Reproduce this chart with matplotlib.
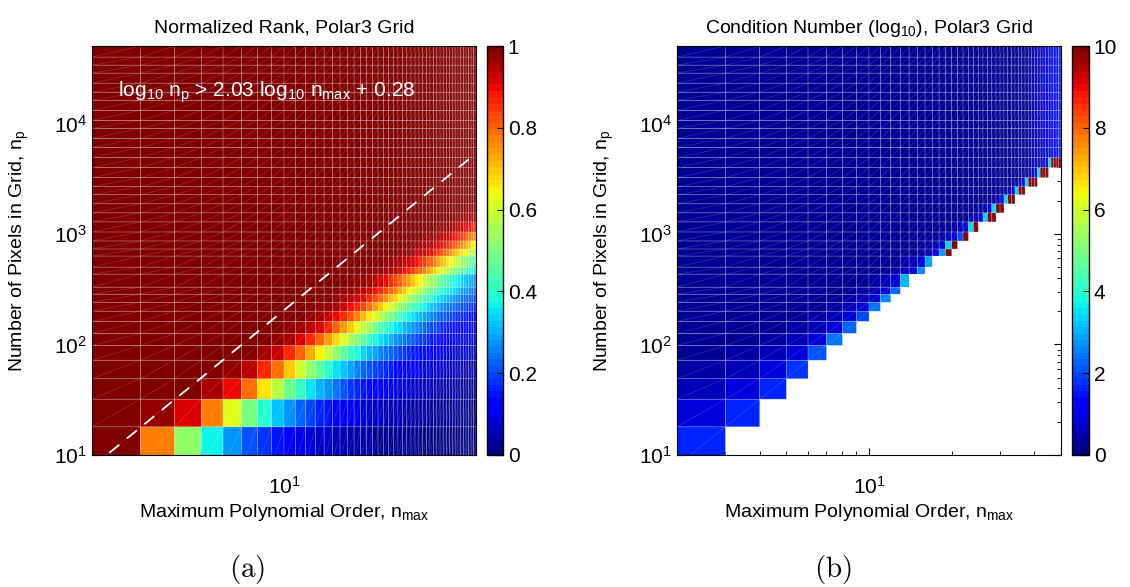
import numpy as np
import matplotlib.pyplot as plt
from matplotlib.collections import LineCollection
from matplotlib.ticker import LogLocator, NullFormatter

plt.rcParams['font.family'] = ['Liberation Sans', 'DejaVu Sans']
plt.rcParams['mathtext.default'] = 'regular'
plt.rcParams['font.size'] = 14

# column edges: maximum polynomial order
n_max = list(range(2, 51))
# row edges: number of pixels in the grid
n_pix = [8, 18, 32, 49, 72, 98, 126, 162, 200, 241, 285, 330, 433, 501, 631, 731,
         864, 1042, 1285, 1552, 1874, 2263, 2675, 3230, 3981, 4909, 6053, 7311,
         9010, 10650, 13120, 16180, 19140, 23110, 28490, 33650, 39810, 50100]

# effective rank reached in each row and sharpness of its knee (panel a colours)
rank_cap = [7.8, 18, 32, 49, 72, 98, 126, 162, 205, 250, 300, 350, 480, 573, 720,
            870, 1050, 1372, 1845, 2200, 2700, 3300, 4000, 5000, 6000, 7300, 9000,
            11000, 13500, 16000, 19000, 23000, 28000, 33000, 39000, 46000, 55000]
knee = [8] + [4] * 36

# panel b: last n_max that is still full rank in each row (edge of white area)
last_full = [2, 3, 4, 5, 6, 7, 8, 9, 10, 11, 12, 13, 15, 16, 19, 20, 22, 24, 28,
             30, 33, 36, 40, 44] + [49] * 13
# number of saturated (dark red) cells at the edge of each row
n_red = [0] * 14 + [1, 1, 1, 1, 2, 2, 2, 2, 3, 3, 4] + [0] * 12
# log10 condition number of the light blue / cyan cell at the edge
edge_cond = [1.6, 1.6, 1.7, 1.8, 2.1, 2.4, 2.2, 1.9, 2.4, 2.6, 2.2, 3.0, 2.6, 2.9,
             2.8, 3.4, 2.0, 3.4, 3.4, 3.4, 3.4, 3.4, 3.4, 3.4, 3.4] + [None] * 12
# cells just left of the edge cell
near_cond = [0.8, 0.55, 0.4]
# background log10 condition number per column (brighter at the top right)
col_base = [0.25] * 36 + [0.35, 0.4, 0.45, 0.5, 0.6, 0.7, 0.8, 0.9, 1.0, 1.2, 1.4, 1.7]

# fitted full-rank limit: log10 np > a log10 nmax + b
fit_a = 2.03
fit_b = 0.28

x = np.array(n_max, float)
y = np.array(n_pix, float)
terms = (x[:-1] + 1) * (x[:-1] + 2) / 2
p = np.array(knee, float)[:, None]
rank = (1 + (terms[None, :] / np.array(rank_cap)[:, None]) ** p) ** (-1 / p)

cond = np.full((len(y) - 1, len(x) - 1), np.nan)
for i in range(len(y) - 1):
    jl = n_max.index(last_full[i])
    row = np.array(col_base[:jl + 1])
    r = n_red[i]
    if r:
        row[jl - r + 1:] = 10
    if edge_cond[i] is not None:
        k = jl - r
        row[k] = edge_cond[i]
        for d, v in enumerate(near_cond):
            if k - d - 1 >= 0:
                row[k - d - 1] = max(row[k - d - 1], v)
    cond[i, :jl + 1] = row
cond = np.ma.masked_invalid(cond)

jet = plt.get_cmap('jet', 64)

W, H = 1130, 587
def box(x0, y0, x1, y1):
    return [x0 / W, 1 - y1 / H, (x1 - x0) / W, (y1 - y0) / H]

fig = plt.figure(figsize=(W / 100, H / 100), dpi=100)
ax1 = fig.add_axes(box(92, 46, 476, 455))
cax1 = fig.add_axes(box(487, 46, 503, 455))
ax2 = fig.add_axes(box(677, 46, 1061, 455))
cax2 = fig.add_axes(box(1072, 46, 1089, 455))

def panel(ax, cax, data, vmax, cticks, clabels, title):
    m = ax.pcolor(x, y, data, cmap=jet, vmin=0, vmax=vmax,
                  edgecolors=(1, 1, 1, 0.28), linewidth=0.5)
    # diagonal seams of the rendered quads
    segs = []
    for i in range(len(y) - 1):
        for j in range(len(x) - 1):
            if not np.ma.is_masked(data[i, j]):
                segs.append([(x[j], y[i]), (x[j + 1], y[i + 1])])
    ax.add_collection(LineCollection(segs, colors=(1, 1, 1, 0.18), linewidths=0.5))
    ax.set_xscale('log')
    ax.set_yscale('log')
    ax.set_xlim(2, 50)
    ax.set_ylim(10, 50100)
    ax.set_axisbelow(True)
    ax.xaxis.set_minor_locator(LogLocator(subs=np.arange(2, 10)))
    ax.yaxis.set_minor_locator(LogLocator(subs=np.arange(2, 10), numticks=20))
    ax.xaxis.set_minor_formatter(NullFormatter())
    ax.yaxis.set_minor_formatter(NullFormatter())
    ax.tick_params(which='both', direction='in', top=True, right=True, labelsize=15)
    ax.tick_params(which='major', length=5)
    ax.tick_params(which='minor', length=3)
    ax.tick_params(axis='x', which='major', pad=15)
    ax.set_title(title, fontsize=14, pad=9.5)
    ax.set_xlabel('Maximum Polynomial Order, n$_{max}$', fontsize=14, labelpad=3)
    ax.set_ylabel('Number of Pixels in Grid, n$_p$', fontsize=14)
    ax.yaxis.set_label_coords(-0.16, 0.5)
    cb = fig.colorbar(m, cax=cax, ticks=cticks)
    cb.ax.set_yticklabels(clabels)
    cb.ax.tick_params(direction='in', length=4, labelsize=15)
    cb.outline.set_linewidth(1.0)

panel(ax1, cax1, rank, 1, [0, 0.2, 0.4, 0.6, 0.8, 1],
      ['0', '0.2', '0.4', '0.6', '0.8', '1'], 'Normalized Rank, Polar3 Grid')
panel(ax2, cax2, cond, 10, [0, 2, 4, 6, 8, 10],
      ['0', '2', '4', '6', '8', '10'], 'Condition Number (log$_{10}$), Polar3 Grid')

xf = np.array([2, 50], float)
ax1.plot(xf, 10 ** (fit_a * np.log10(xf) + fit_b), color='white', lw=1.3,
         dashes=(7, 5.5))
ax1.text(0.068, 0.875, 'log$_{10}$ n$_p$ > 2.03 log$_{10}$ n$_{max}$ + 0.28',
         transform=ax1.transAxes, color='white', fontsize=15, va='baseline')

fig.text(247 / W, 1 - 570 / H, r'$\mathrm{(a)}$', ha='center', va='center',
         fontsize=21, math_fontfamily='cm')
fig.text(833 / W, 1 - 570 / H, r'$\mathrm{(b)}$', ha='center', va='center',
         fontsize=21, math_fontfamily='cm')

fig.savefig('out.png', dpi=100)
